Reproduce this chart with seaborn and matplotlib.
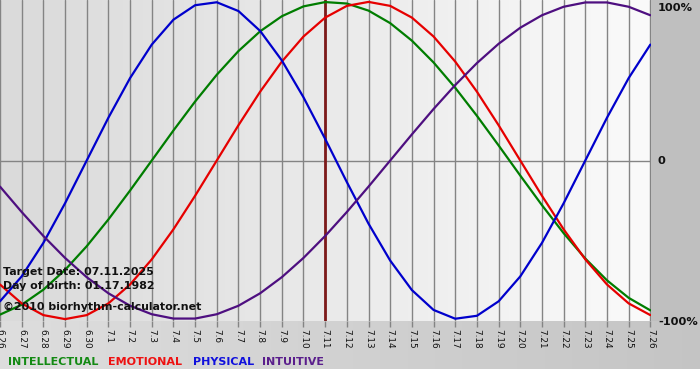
"""
Biorhythm chart 06.26 - 07.26, target date 07.11.2025, birth 01.17.1982.
"""

import matplotlib

matplotlib.use("Agg")
import matplotlib.pyplot as plt
import numpy as np
import pandas as pd
import seaborn as sns

DAY_LABELS = [
    "6.26", "6.27", "6.28", "6.29", "6.30",
    "7.1", "7.2", "7.3", "7.4", "7.5", "7.6", "7.7", "7.8", "7.9", "7.10",
    "7.11", "7.12", "7.13", "7.14", "7.15", "7.16", "7.17", "7.18", "7.19",
    "7.20", "7.21", "7.22", "7.23", "7.24", "7.25", "7.26",
]
TARGET_LABEL = "7.11"

INTELLECTUAL = [
    -0.9718, -0.9096, -0.8146, -0.6901, -0.5406, -0.3717, -0.1893, 0.0,
    0.1893, 0.3717, 0.5406, 0.6901, 0.8146, 0.9096, 0.9718, 0.9989,
    0.9898, 0.9450, 0.8660, 0.7557, 0.6182, 0.4582, 0.2817, 0.0951,
    -0.0951, -0.2817, -0.4582, -0.6182, -0.7557, -0.8660, -0.9450,
]
EMOTIONAL = [
    -0.7818, -0.9010, -0.9749, -1.0, -0.9749, -0.9010, -0.7818, -0.6235,
    -0.4339, -0.2225, 0.0, 0.2225, 0.4339, 0.6235, 0.7818, 0.9010,
    0.9749, 1.0, 0.9749, 0.9010, 0.7818, 0.6235, 0.4339, 0.2225,
    0.0, -0.2225, -0.4339, -0.6235, -0.7818, -0.9010, -0.9749,
]
PHYSICAL = [
    -0.8879, -0.7308, -0.5196, -0.2698, 0.0, 0.2698, 0.5196, 0.7308,
    0.8879, 0.9791, 0.9977, 0.9423, 0.8170, 0.6311, 0.3984, 0.1362,
    -0.1362, -0.3984, -0.6311, -0.8170, -0.9423, -0.9977, -0.9791, -0.8879,
    -0.7308, -0.5196, -0.2698, 0.0, 0.2698, 0.5196, 0.7308,
]
INTUITIVE = [
    -0.1646, -0.3247, -0.4759, -0.6142, -0.7357, -0.8372, -0.9158, -0.9694,
    -0.9966, -0.9966, -0.9694, -0.9158, -0.8372, -0.7357, -0.6142, -0.4759,
    -0.3247, -0.1646, 0.0, 0.1646, 0.3247, 0.4759, 0.6142, 0.7357,
    0.8372, 0.9158, 0.9694, 0.9966, 0.9966, 0.9694, 0.9158,
]

CYCLES = ["INTELLECTUAL", "EMOTIONAL", "PHYSICAL", "INTUITIVE"]
COLORS = {
    "INTELLECTUAL": "#007d00",
    "EMOTIONAL": "#e60000",
    "PHYSICAL": "#0000cc",
    "INTUITIVE": "#4e0f80",
}
LEGEND_COLORS = {
    "INTELLECTUAL": "#138a13",
    "EMOTIONAL": "#ee1111",
    "PHYSICAL": "#1010dd",
    "INTUITIVE": "#5a1e8c",
}

W, H = 700, 380
PLOT_R, PLOT_B = 651, 321


def build_frame() -> pd.DataFrame:
    series = dict(zip(CYCLES, [INTELLECTUAL, EMOTIONAL, PHYSICAL, INTUITIVE]))
    rows = []
    for name, vals in series.items():
        for i, v in enumerate(vals):
            rows.append({"day": i, "value": v, "cycle": name})
    return pd.DataFrame(rows)


def background_image() -> np.ndarray:
    img = np.ones((H, W, 3))
    img[:PLOT_B, PLOT_R:] = 0.75
    band = np.linspace(0.87, 0.77, W)
    img[PLOT_B:369, :, :] = band[None, :, None]
    return img


def main():
    sns.set_style("white")
    plt.rcParams["font.family"] = ["DejaVu Sans"]

    df = build_frame()
    fig = plt.figure(figsize=(W / 100, H / 100), dpi=100)

    bg = fig.add_axes([0, 0, 1, 1], zorder=-10)
    bg.imshow(background_image(), aspect="auto", extent=[0, 1, 0, 1])
    bg.set_axis_off()

    ax = fig.add_axes([0, 1 - PLOT_B / H, PLOT_R / W, PLOT_B / H])
    xmin, xmax = 0, len(DAY_LABELS) - 1 + 0.03
    ymin, ymax = -1.012, 1.012
    grad = np.linspace(0.855, 0.98, 256)
    ax.imshow(
        np.dstack([grad, grad, grad]),
        aspect="auto",
        extent=[xmin, xmax, ymin, ymax],
        interpolation="bilinear",
        zorder=0,
    )

    for i in range(len(DAY_LABELS)):
        ax.axvline(i, color="#848484", lw=1, zorder=1)
    ax.axhline(0, color="#848484", lw=1, zorder=1)

    sns.lineplot(
        data=df, x="day", y="value", hue="cycle", hue_order=CYCLES,
        palette=COLORS, legend=False, lw=1.6, ax=ax, zorder=3,
    )
    ax.axvline(DAY_LABELS.index(TARGET_LABEL), color="#7d1a1a", lw=2, zorder=2)

    ax.set_xlim(xmin, xmax)
    ax.set_ylim(ymin, ymax)
    ax.set_xticks(range(len(DAY_LABELS)))
    ax.set_xticklabels(DAY_LABELS, rotation=270, fontsize=6.4, color="#111111",
                       ha="center", va="top")
    ax.tick_params(axis="x", length=4, width=1, color="#848484", pad=1.5, bottom=True)
    ax.set_yticks([])
    ax.set_xlabel("")
    ax.set_ylabel("")
    for s in ax.spines.values():
        s.set_visible(False)

    # textos dentro do grafico
    info = [
        ("Target Date: 07.11.2025", 272),
        ("Day of birth: 01.17.1982", 286),
        ("\u00a92010 biorhythm-calculator.net", 307),
    ]
    for txt, ypx in info:
        fig.text(3 / W, 1 - ypx / H, txt, fontsize=7.9, fontweight="bold",
                 color="#111111", ha="left", va="center")

    for txt, ypx in [("100%", 8), ("0", 161), ("-100%", 322)]:
        fig.text(658 / W, 1 - ypx / H, txt, fontsize=8.2, fontweight="bold",
                 color="#111111", ha="left", va="center")

    xpos = [8, 108, 193, 262]
    for name, xp in zip(CYCLES, xpos):
        fig.text(xp / W, 1 - 362 / H, name, fontsize=8.0, fontweight="bold",
                 color=LEGEND_COLORS[name], ha="left", va="center")

    fig.savefig("out.png", dpi=100)
    plt.close(fig)


if __name__ == "__main__":
    main()
